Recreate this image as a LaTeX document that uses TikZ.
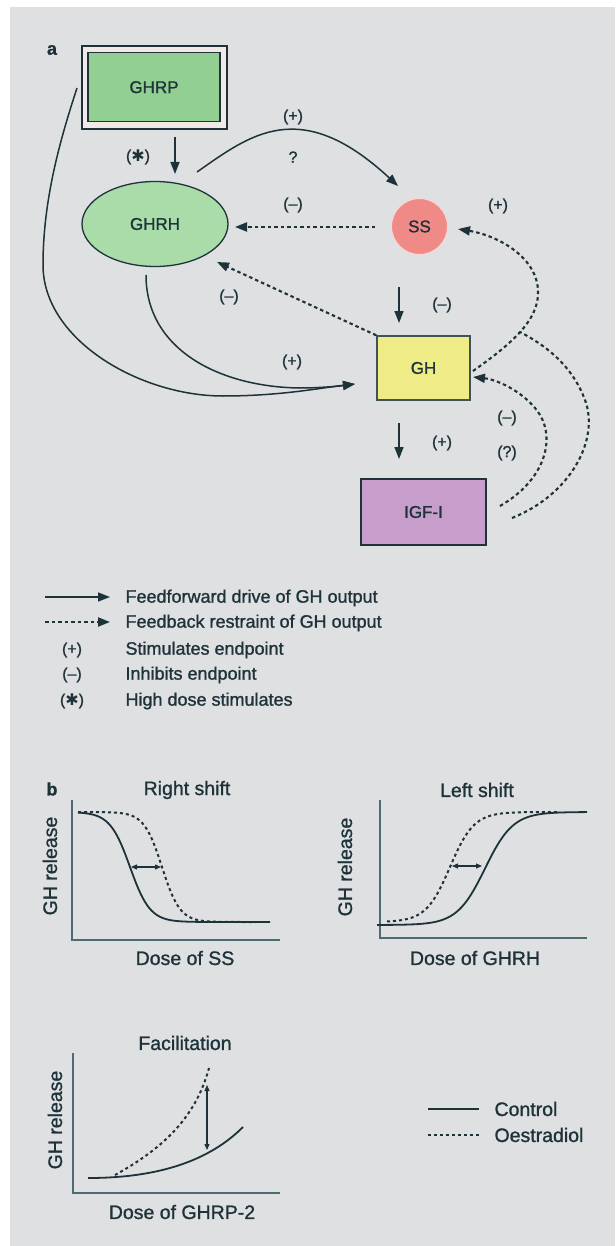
\documentclass[tikz,border=0pt]{standalone}
\usepackage{fontspec}
\setmainfont{Liberation Sans}[FakeBold=1.1]
\newfontfamily\symfont{DejaVu Sans}
\usetikzlibrary{arrows.meta,shapes.geometric,calc}
\definecolor{bg}{HTML}{DFE0E2}
\definecolor{ink}{HTML}{1E323A}
\definecolor{axisc}{HTML}{4E6A72}
\definecolor{ghrpfill}{HTML}{92CF92}
\definecolor{ghrpframe}{HTML}{F1E9E7}
\definecolor{ghrhfill}{HTML}{A9DCA9}
\definecolor{ssfill}{HTML}{F08A87}
\definecolor{ghfill}{HTML}{EFEC88}
\definecolor{igffill}{HTML}{C79DCC}
\begin{document}
\begin{tikzpicture}[x=1pt,y=-1pt,
  every node/.style={text=ink},
  nodefont/.style={font=\fontsize{17}{19}\selectfont},
  lblfont/.style={font=\fontsize{16}{19}\selectfont},
  legfont/.style={font=\fontsize{18}{21}\selectfont},
  plotfont/.style={font=\fontsize{19.5}{23}\selectfont},
  panelfont/.style={font=\fontsize{18}{21}\selectfont\bfseries},
  tip/.style={-{Triangle[length=12pt,width=9pt]}},
  ff/.style={draw=ink,line width=1.5pt,tip},
  fb/.style={draw=ink,line width=2.1pt,dash pattern=on 3.5pt off 3pt,tip},
  fbline/.style={draw=ink,line width=2.1pt,dash pattern=on 3.5pt off 3pt},
  boxstyle/.style={draw=ink,line width=1.3pt,inner sep=0pt,nodefont},
  axisline/.style={draw=axisc,line width=1.2pt},
  ctrl/.style={draw=ink,line width=1.8pt},
  oest/.style={draw=ink,line width=2pt,dash pattern=on 3pt off 3pt},
  dbl/.style={draw=ink,line width=1.2pt,{Triangle[length=6pt,width=5pt]}-{Triangle[length=6pt,width=5pt]}}
]
\useasboundingbox (0,0) rectangle (615,1246);
\fill[white] (0,0) rectangle (615,1246);
\fill[bg] (10,7) rectangle (615,1246);

% ---------------- panel a ----------------
\node[panelfont] (pa) at (52,50) {a};

\node[boxstyle,fill=ghrpframe,minimum width=145pt,minimum height=83pt] (ghrp) at (154.5,87.5) {};
\node[boxstyle,fill=ghrpfill,minimum width=132pt,minimum height=69pt] (ghrpin) at (154,87.2) {GHRP};
\node[boxstyle,ellipse,fill=ghrhfill,minimum width=146pt,minimum height=85pt] (ghrh) at (155,224) {GHRH};
\node[circle,fill=ssfill,draw=ssfill!35!white,line width=1pt,minimum size=56pt,inner sep=0pt,nodefont] (ss) at (419.5,226.5) {SS};
\node[boxstyle,draw=ink!85,fill=ghfill,minimum width=93pt,minimum height=64pt] (gh) at (423.5,368) {GH};
\node[boxstyle,fill=igffill,minimum width=125pt,minimum height=66pt] (igf) at (423.5,512) {IGF-I};

% connector ends
\coordinate (ghrpdown) at (175,137);
\coordinate (ghrhtop) at (175,174);
\coordinate (ghrhup) at (197,172);
\coordinate (sstop) at (398,186);
\coordinate (ssleft) at (375,227);
\coordinate (ghrhright) at (235,227);
\coordinate (ghrhlow) at (217,262);
\coordinate (ssdown) at (399,287);
\coordinate (ghtop) at (399,323);
\coordinate (ghdown) at (399,423);
\coordinate (igftop) at (399,459);
\coordinate (ghin) at (355,384);
\coordinate (ghrpside) at (77,88);
\coordinate (ghrhbottom) at (146,275);
\coordinate (ghright) at (473,371);
\coordinate (ghrightin) at (473,377);
\coordinate (ssright) at (458,229);
\coordinate (junction) at (520,332);
\coordinate (igfinner) at (500,506);
\coordinate (igfouter) at (512,518);

% feedforward drive
\draw[ff] (ghrpdown) -- (ghrhtop);
\draw[ff] (ghrhup) .. controls (250,135) and (300,95) .. (sstop);
\draw[ff] (ssdown) -- (ghtop);
\draw[ff] (ghdown) -- (igftop);
\draw[ff] (ghrpside) .. controls (60,140) and (43,200) .. (43,265)
  .. controls (43,340) and (140,396) .. (223,396)
  .. controls (280,396) and (320,388) .. (ghin);
\draw[ff] (ghrhbottom) .. controls (146,350) and (220,387) .. (300,388)
  .. controls (320,388) and (340,386) .. (ghin);

% feedback restraint
\draw[fb] (ssleft) -- (ghrhright);
\draw[fb] (gh.north west) -- (ghrhlow);
\draw[fb] (ghright) .. controls (510,345) and (540,320) .. (538,290)
  .. controls (536,255) and (495,235) .. (ssright);
\draw[fbline] (igfouter) .. controls (570,495) and (600,440) .. (585,400)
  .. controls (572,365) and (545,345) .. (junction);
\draw[fb] (igfinner) .. controls (545,480) and (555,440) .. (540,415)
  .. controls (528,395) and (500,380) .. (ghrightin);

% effect labels
\node[lblfont] (l1) at (293,117) {(+)};
\node[lblfont] (l2) at (293,157) {?};
\node[lblfont] (l3) at (138,157) {({\symfont ✱})};
\node[lblfont] (l4) at (293,205) {(–)};
\node[lblfont] (l5) at (498,206) {(+)};
\node[lblfont] (l6) at (442,305) {(–)};
\node[lblfont] (l7) at (229,297) {(–)};
\node[lblfont] (l8) at (292,362) {(+)};
\node[lblfont] (l9) at (442,443) {(+)};
\node[lblfont] (l10) at (507,418) {(–)};
\node[lblfont] (l11) at (507,453) {(?)};

% key
\coordinate (k1a) at (45,597); \coordinate (k1b) at (110,597);
\coordinate (k2a) at (45,622); \coordinate (k2b) at (110,622);
\draw[ff] (k1a) -- (k1b);
\draw[fb] (k2a) -- (k2b);
\node[legfont,anchor=west] (t1) at (122,598) {Feedforward drive of GH output};
\node[legfont,anchor=west] (t2) at (122,623) {Feedback restraint of GH output};
\node[lblfont] (s1) at (72,650) {(+)};
\node[legfont,anchor=west] (t3) at (122,650) {Stimulates endpoint};
\node[lblfont] (s2) at (72,675) {(–)};
\node[legfont,anchor=west] (t4) at (122,675) {Inhibits endpoint};
\node[lblfont] (s3) at (72,701) {({\symfont ✱})};
\node[legfont,anchor=west] (t5) at (122,701) {High dose stimulates};

% ---------------- panel b ----------------
\node[panelfont] (pb) at (52,789) {b};

% right shift
\node[plotfont] (rt) at (187,790) {Right shift};
\draw[axisline] (72,800) -- (72,940) -- (280,940);
\node[plotfont,rotate=90] (ry) at (50,866) {GH release};
\node[plotfont] (rx) at (185,958) {Dose of SS};
\draw[oest] plot[domain=78:255,samples=90] (\x,{812+110/(1+exp(-(\x-162)/9))});
\draw[ctrl] plot[domain=78:270,samples=90] (\x,{812+110/(1+exp(-(\x-130)/10))});
\draw[dbl] (131,867) -- (161,867);

% left shift
\node[plotfont] (lt) at (477,790) {Left shift};
\draw[axisline] (380,800) -- (380,938) -- (587,938);
\node[plotfont,rotate=90] (ly) at (345,867) {GH release};
\node[plotfont] (lx) at (475,958) {Dose of GHRH};
\draw[oest] plot[domain=387:560,samples=90] (\x,{922-110/(1+exp(-(\x-450)/12))});
\draw[ctrl] plot[domain=377:587,samples=90] (\x,{925-113/(1+exp(-(\x-485)/14))});
\draw[dbl] (452,866) -- (482,866);

% facilitation
\node[plotfont] (ft) at (185,1043) {Facilitation};
\draw[axisline] (73,1053) -- (73,1193) -- (280,1193);
\node[plotfont,rotate=90] (fy) at (55,1120) {GH release};
\node[plotfont] (fx) at (182,1212) {Dose of GHRP-2};
\draw[oest] (115,1175) .. controls (160,1150) and (195,1120) .. (209,1068);
\draw[ctrl] (88,1178) .. controls (160,1178) and (210,1160) .. (243,1127);
\draw[dbl] (207,1085) -- (207,1150);

% curve key
\draw[ctrl] (428,1109) -- (479,1109);
\draw[oest] (428,1135) -- (479,1135);
\node[plotfont,anchor=west] (c1) at (491,1109) {Control};
\node[plotfont,anchor=west] (c2) at (491,1135) {Oestradiol};
\end{tikzpicture}
\end{document}
